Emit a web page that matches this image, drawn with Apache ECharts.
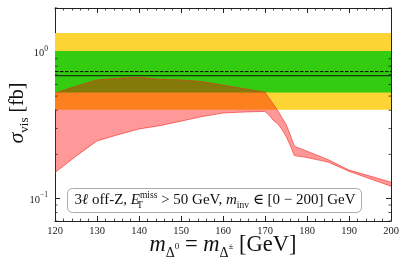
<!DOCTYPE html>
<html><head><meta charset="utf-8">
<script src="https://cdn.jsdelivr.net/npm/echarts@6/dist/echarts.min.js"></script>
<style>html,body{margin:0;padding:0;background:#fff}#c{width:407px;height:268px}</style>
</head><body><div id="c"></div>
<script>
// ---- data ----
const massGeV    = [120, 125, 130, 135, 140, 145, 150, 155, 160, 165, 170, 171, 172, 173, 174, 175, 176, 177, 180, 185, 190, 195, 200];
const sigmaUpper = [0.524,0.584,0.645,0.662,0.673,0.652,0.645,0.628,0.594,0.562,0.532,0.482,0.440,0.400,0.357,0.321,0.272,0.227,0.210,0.184,0.156,0.142,0.129];
const sigmaLower = [0.150,0.194,0.247,0.272,0.298,0.314,0.337,0.362,0.383,0.389,0.393,0.369,0.341,0.324,0.297,0.266,0.230,0.196,0.190,0.177,0.153,0.136,0.121];
const band2sigma = [0.403, 1.35];
const band1sigma = [0.528, 1.016];
const expectedLimit = 0.735;
const observedLimit = 0.690;
const xTickValues = [120, 130, 140, 150, 160, 170, 180, 190, 200];
const yMinorTicks = [0.07, 0.08, 0.09, 0.2, 0.3, 0.4, 0.5, 0.6, 0.7, 0.8, 0.9, 2];
const xRange = [120, 200];
const yRange = [0.07, 2];

const SERIF = '"Liberation Serif", "DejaVu Serif", serif';
const chart = echarts.init(document.getElementById('c'), null, {renderer: 'canvas'});

function hband(range, color) {
  return {
    type: 'custom', xAxisIndex: 0, yAxisIndex: 0, silent: true,
    data: [[xRange[0], range[0]]],
    renderItem: (p, api) => {
      const a = api.coord([xRange[0], range[1]]);
      const b = api.coord([xRange[1], range[0]]);
      return {type: 'rect', shape: {x: a[0], y: a[1], width: b[0] - a[0], height: b[1] - a[1]}, style: {fill: color}};
    }
  };
}
function hline(v, color, width, dash) {
  return {
    type: 'custom', xAxisIndex: 0, yAxisIndex: 0, silent: true,
    data: [[xRange[0], v]],
    renderItem: (p, api) => {
      const a = api.coord([xRange[0], v]);
      const b = api.coord([xRange[1], v]);
      return {type: 'line', shape: {x1: a[0], y1: a[1], x2: b[0], y2: b[1]},
              style: {stroke: color, lineWidth: width, lineDash: dash || null}};
    }
  };
}

const axisLineStyle = {color: '#222', width: 1};
const xAxisBase = {
  type: 'value', min: xRange[0], max: xRange[1], interval: 10,
  axisLine: {show: true, lineStyle: axisLineStyle},
  axisTick: {show: true, inside: true, length: 5, lineStyle: axisLineStyle},
  minorTick: {show: true, splitNumber: 5, length: 2.5, lineStyle: {color: '#222', width: 0.8}},
  splitLine: {show: false}, minorSplitLine: {show: false}
};
const yAxisBase = {
  type: 'log', logBase: 10, min: yRange[0], max: yRange[1],
  axisLine: {show: true, lineStyle: axisLineStyle},
  axisTick: {show: true, inside: true, length: 5, lineStyle: axisLineStyle},
  splitLine: {show: false}
};

const option = {
  animation: false,
  backgroundColor: '#fff',
  grid: {left: 55, right: 16, top: 8, bottom: 47, containLabel: false, outerBoundsMode: 'none'},
  xAxis: [
    Object.assign({}, xAxisBase, {
      position: 'bottom',
      axisLabel: {show: true, margin: 5, fontFamily: SERIF, fontSize: 10.5, color: '#222',
        formatter: v => xTickValues.includes(v) ? String(v) : ''}
    }),
    Object.assign({}, xAxisBase, {position: 'top', axisLabel: {show: false}})
  ],
  yAxis: [
    Object.assign({}, yAxisBase, {
      position: 'left',
      axisLabel: {show: true, margin: 7, fontFamily: SERIF, color: '#222',
        formatter: v => Math.abs(v - 1) < 1e-6 ? '{a|10}{b|0}' : (Math.abs(v - 0.1) < 1e-7 ? '{a|10}{b|−1}' : ''),
        rich: {
          a: {fontFamily: SERIF, fontSize: 10.5, lineHeight: 14, verticalAlign: 'bottom'},
          b: {fontFamily: SERIF, fontSize: 7.5, lineHeight: 14, verticalAlign: 'top'}
        }}
    }),
    Object.assign({}, yAxisBase, {position: 'right', axisLabel: {show: false}})
  ],
  series: [
    hband(band2sigma, '#fcd535'),
    hband(band1sigma, '#33cc11'),
    hline(expectedLimit, '#000', 1, [3.5, 1.5]),
    hline(observedLimit, '#153b0a', 1.2),
    {
      type: 'custom', xAxisIndex: 0, yAxisIndex: 0, silent: true,
      data: [[massGeV[0], sigmaUpper[0]]],
      renderItem: (p, api) => {
        const up = massGeV.map((m, i) => api.coord([m, sigmaUpper[i]]));
        const lo = massGeV.map((m, i) => api.coord([m, sigmaLower[i]])).reverse();
        return {type: 'group', children: [
          {type: 'polygon', shape: {points: up.concat(lo)}, style: {fill: 'rgba(255,0,0,0.4)', stroke: 'none'}},
          {type: 'polyline', shape: {points: up}, style: {stroke: 'rgba(240,40,30,0.75)', lineWidth: 0.8, fill: 'none'}},
          {type: 'polyline', shape: {points: lo}, style: {stroke: 'rgba(240,40,30,0.75)', lineWidth: 0.8, fill: 'none'}}
        ]};
      }
    },
    {
      type: 'custom', xAxisIndex: 0, yAxisIndex: 0, silent: true,
      data: yMinorTicks.map(v => [xRange[0], v]),
      renderItem: (p, api) => {
        const v = api.value(1);
        const a = api.coord([xRange[0], v]);
        const b = api.coord([xRange[1], v]);
        return {type: 'group', children: [
          {type: 'line', shape: {x1: a[0], y1: a[1], x2: a[0] + 2.5, y2: a[1]}, style: {stroke: '#222', lineWidth: 0.8}},
          {type: 'line', shape: {x1: b[0] - 2.5, y1: b[1], x2: b[0], y2: b[1]}, style: {stroke: '#222', lineWidth: 0.8}}
        ]};
      }
    }
  ],
  graphic: [
    {type: 'rect', z: 100, shape: {x: 67.5, y: 188.5, width: 294, height: 24, r: 5},
     style: {fill: '#fff', stroke: '#aaa', lineWidth: 1}},
    {type: 'text', z: 101, x: 215, y: 200.5,
     style: {
       text: '{n|3}{i|ℓ}{n| off-Z, }{i|E}{sb|T}{sp|miss}{n| > 50 GeV, }{i|m}{sub|inv}{n| ∈ [0 − 200] GeV}',
       align: 'center', verticalAlign: 'middle', fill: '#111',
       rich: {
         n: {fontFamily: SERIF, fontSize: 15, lineHeight: 20, verticalAlign: 'middle'},
         i: {fontFamily: SERIF, fontStyle: 'italic', fontSize: 15, lineHeight: 20, verticalAlign: 'middle'},
         sb: {fontFamily: SERIF, fontSize: 9.5, lineHeight: 20, verticalAlign: 'bottom', width: 0.01},
         sp: {fontFamily: SERIF, fontSize: 9.5, lineHeight: 20, verticalAlign: 'top'},
         sub: {fontFamily: SERIF, fontSize: 9.5, lineHeight: 20, verticalAlign: 'bottom'}
       }
     }},
    {type: 'text', z: 101, x: 223, y: 245,
     style: {
       text: '{m|m}{s|Δ}{ss|0}{e| = }{m|m}{s|Δ}{ss|±}{e| [GeV]}',
       align: 'center', verticalAlign: 'middle', fill: '#111',
       rich: {
         m: {fontFamily: SERIF, fontStyle: 'italic', fontSize: 22.5, lineHeight: 24, verticalAlign: 'bottom'},
         s: {fontFamily: SERIF, fontSize: 14, lineHeight: 24, verticalAlign: 'bottom', padding: [0,0,-3,0]},
         ss: {fontFamily: SERIF, fontSize: 9, lineHeight: 24, verticalAlign: 'bottom', padding: [0,0,6,0]},
         e: {fontFamily: SERIF, fontSize: 22.5, lineHeight: 24, verticalAlign: 'bottom'}
       }
     }},
    {type: 'text', z: 101, x: 17, y: 113, rotation: Math.PI / 2,
     style: {
       text: '{s|σ}{v|vis}{n| [fb]}',
       align: 'center', verticalAlign: 'middle', fill: '#111',
       rich: {
         s: {fontFamily: SERIF, fontStyle: 'italic', fontSize: 22, lineHeight: 22, verticalAlign: 'bottom'},
         v: {fontFamily: SERIF, fontSize: 13, lineHeight: 22, verticalAlign: 'bottom', padding: [0,0,-3,0]},
         n: {fontFamily: SERIF, fontSize: 20, lineHeight: 22, verticalAlign: 'bottom'}
       }
     }}
  ]
};
chart.setOption(option);
</script></body></html>
